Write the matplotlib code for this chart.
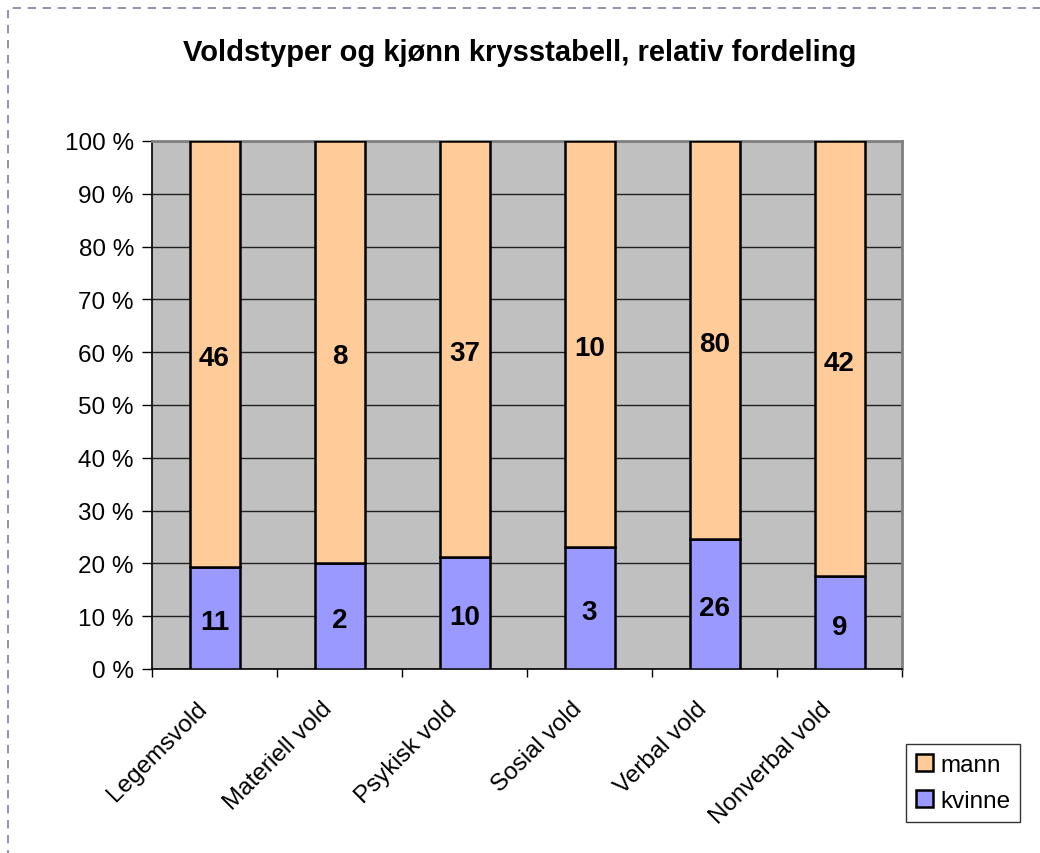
import matplotlib
matplotlib.use("Agg")
import matplotlib.pyplot as plt
from matplotlib.patches import Rectangle
import numpy as np

categories = ["Legemsvold", "Materiell vold", "Psykisk vold", "Sosial vold", "Verbal vold", "Nonverbal vold"]
kvinne = [11, 2, 10, 3, 26, 9]
mann = [46, 8, 37, 10, 80, 42]
ytick_labels = ["0 %", "10 %", "20 %", "30 %", "40 %", "50 %", "60 %", "70 %", "80 %", "90 %", "100 %"]

plt.rcParams['font.family'] = ['Liberation Sans', 'DejaVu Sans']

W, H = 1040, 854
fig = plt.figure(figsize=(W / 100, H / 100), dpi=100)

ax = fig.add_axes([152 / W, (H - 670) / H, 750 / W, 528 / H])
ax.set_facecolor('#C0C0C0')

k = np.array(kvinne, dtype=float)
m = np.array(mann, dtype=float)
tot = k + m
kp = k / tot * 100
mp = m / tot * 100
x = np.arange(len(categories))

ax.bar(x, kp, width=0.4, color='#9999FF', edgecolor='black', linewidth=1.8, label='kvinne', zorder=3)
ax.bar(x, mp, bottom=kp, width=0.4, color='#FFCC99', edgecolor='black', linewidth=1.8, label='mann', zorder=3)

for i in range(len(categories)):
    ax.annotate(str(kvinne[i]), xy=(x[i], kp[i] / 2), xytext=(0, -3), textcoords='offset points',
                ha='center', va='center', fontsize=20, fontweight='bold', zorder=4)
    ax.annotate(str(mann[i]), xy=(x[i], kp[i] + mp[i] / 2), xytext=(0, -3), textcoords='offset points',
                ha='center', va='center', fontsize=20, fontweight='bold', zorder=4)

ax.set_xlim(-0.5, len(categories) - 0.5)
ax.set_ylim(0, 100)
ax.set_yticks(np.arange(0, 101, 10))
ax.set_yticklabels(ytick_labels, fontsize=17.5)
ax.yaxis.grid(True, color='#202020', linewidth=1.0, zorder=0)
ax.set_axisbelow(True)

ax.set_xticks(np.arange(-0.5, len(categories), 1.0))
ax.set_xticklabels([])
ax.tick_params(axis='x', direction='out', length=6, width=1, color='black')
ax.tick_params(axis='y', direction='out', length=7, width=1, color='black', pad=6)

for i, c in enumerate(categories):
    ax.annotate(c, xy=(x[i], 0), xycoords=('data', 'axes fraction'),
                xytext=(-8, -26), textcoords='offset points',
                rotation=45, rotation_mode='anchor', ha='right', va='center', fontsize=17.5)

for s in ['left', 'bottom']:
    ax.spines[s].set_color('black')
    ax.spines[s].set_linewidth(1.2)
for s in ['top', 'right']:
    ax.spines[s].set_color('#808080')
    ax.spines[s].set_linewidth(2)

fig.text(520 / W, 1 - 53 / H, "Voldstyper og kjønn krysstabell, relativ fordeling",
         ha='center', va='center', fontsize=21, fontweight='bold')

handles, labels = ax.get_legend_handles_labels()
leg = fig.legend(handles[::-1], labels[::-1], loc='upper left',
                 bbox_to_anchor=(906 / W, 1 - 745 / H), fontsize=17.5,
                 frameon=True, fancybox=False, edgecolor='black',
                 handlelength=0.7, handleheight=0.7, handletextpad=0.3,
                 borderpad=0.4, labelspacing=0.6, borderaxespad=0)
leg.get_frame().set_linewidth(1.0)

border = Rectangle((8 / W, -0.1), 1.2, 1 - 9 / H + 0.1, transform=fig.transFigure,
                   fill=False, edgecolor='#8080A0', linewidth=1.2, linestyle=(0, (5, 4)))
fig.patches.append(border)

fig.savefig("out.png", dpi=100)
